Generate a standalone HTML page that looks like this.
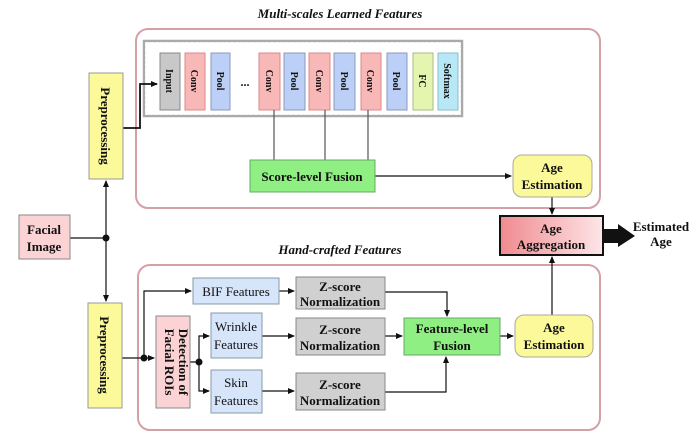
<!DOCTYPE html>
<html><head><meta charset="utf-8"><style>
html,body{margin:0;padding:0;background:#fff}
text{font-family:"Liberation Serif",serif;font-weight:bold;fill:#111}
</style></head><body>
<svg width="700" height="438" viewBox="0 0 700 438" xmlns="http://www.w3.org/2000/svg">
<defs>
<marker id="a" markerUnits="userSpaceOnUse" markerWidth="7" markerHeight="7" refX="6" refY="3.5" orient="auto"><path d="M0,0.5 L7,3.5 L0,6.5 z" fill="#111"/></marker>
<linearGradient id="g" x1="0" x2="1"><stop offset="0" stop-color="#f08a8f"/><stop offset="1" stop-color="#fde6e8"/></linearGradient>
</defs>
<text x="340" y="18" font-size="13" font-style="italic" text-anchor="middle">Multi-scales Learned Features</text>
<text x="340" y="254" font-size="13" font-style="italic" text-anchor="middle">Hand-crafted Features</text>
<rect x="136" y="29" width="464" height="179" rx="12" fill="none" stroke="#d4a0a8" stroke-width="2"/>
<rect x="138" y="265" width="462" height="165" rx="12" fill="none" stroke="#d4a0a8" stroke-width="2"/>
<rect x="144" y="41" width="318" height="75" fill="none" stroke="#aaa" stroke-width="2.5"/>
<rect x="145.5" y="42.5" width="315" height="72" fill="none" stroke="#fff" stroke-width="0.8" stroke-dasharray="3,2"/>
<!-- CNN blocks -->
<g font-size="10">
<rect x="160" y="53" width="20" height="57" fill="#c8c8c8" stroke="#888"/><text transform="translate(166,81) rotate(90)" text-anchor="middle">Input</text>
<rect x="185" y="53" width="20" height="57" fill="#f9b8b8" stroke="#d88"/><text transform="translate(191,81) rotate(90)" text-anchor="middle">Conv</text>
<rect x="211" y="53" width="19" height="57" fill="#bcd0f7" stroke="#89b"/><text transform="translate(217,81) rotate(90)" text-anchor="middle">Pool</text>
<text x="245" y="86" font-size="12" text-anchor="middle">...</text>
<rect x="259" y="53" width="21" height="57" fill="#f9b8b8" stroke="#d88"/><text transform="translate(266,81) rotate(90)" text-anchor="middle">Conv</text>
<rect x="284" y="53" width="21" height="57" fill="#bcd0f7" stroke="#89b"/><text transform="translate(291,81) rotate(90)" text-anchor="middle">Pool</text>
<rect x="309" y="53" width="21" height="57" fill="#f9b8b8" stroke="#d88"/><text transform="translate(316,81) rotate(90)" text-anchor="middle">Conv</text>
<rect x="334" y="53" width="21" height="57" fill="#bcd0f7" stroke="#89b"/><text transform="translate(341,81) rotate(90)" text-anchor="middle">Pool</text>
<rect x="361" y="53" width="20" height="57" fill="#f9b8b8" stroke="#d88"/><text transform="translate(367,81) rotate(90)" text-anchor="middle">Conv</text>
<rect x="387" y="53" width="20" height="57" fill="#bcd0f7" stroke="#89b"/><text transform="translate(393,81) rotate(90)" text-anchor="middle">Pool</text>
<rect x="413" y="53" width="20" height="57" fill="#e4f5b0" stroke="#ab8"/><text transform="translate(419,81) rotate(90)" text-anchor="middle">FC</text>
<rect x="438" y="53" width="20" height="57" fill="#b8e8f5" stroke="#8bc"/><text transform="translate(444,81) rotate(90)" text-anchor="middle">Softmax</text>
</g>
<g stroke="#111" fill="none" stroke-width="1.2">
<path d="M274,110 V160 M325,110 V160 M368,110 V160" stroke="#555"/>
<path d="M123,128 H140 V84 H157" stroke-width="1.8" marker-end="url(#a)"/>
<path d="M70,238 H106"/>
<path d="M106,238 V181" marker-end="url(#a)"/>
<path d="M106,238 V301" marker-end="url(#a)"/>
<path d="M375,176 H511" marker-end="url(#a)"/>
<path d="M552,197 V214" marker-end="url(#a)"/>
<path d="M552,315 V257" marker-end="url(#a)"/>
<path d="M122,358 H154" marker-end="url(#a)"/>
<path d="M144,358 V291 H191" marker-end="url(#a)"/>
<path d="M190,362 H199 V336 H209" marker-end="url(#a)"/>
<path d="M199,362 V391 H209" marker-end="url(#a)"/>
<path d="M279,291 H294" marker-end="url(#a)"/>
<path d="M262,336 H294" marker-end="url(#a)"/>
<path d="M262,391 H294" marker-end="url(#a)"/>
<path d="M385,292 H447 V316" marker-end="url(#a)"/>
<path d="M385,336 H402" marker-end="url(#a)"/>
<path d="M385,392 H446 V357" marker-end="url(#a)"/>
<path d="M500,336 H513" marker-end="url(#a)"/>
</g>
<circle cx="106" cy="238" r="3.5" fill="#111"/>
<circle cx="144" cy="358" r="3.5" fill="#111"/>
<circle cx="199" cy="362" r="3.5" fill="#111"/>
<!-- boxes -->
<rect x="19" y="215" width="51" height="44" fill="#fbd3d5" stroke="#888"/>
<text x="44" y="234" font-size="13" text-anchor="middle">Facial</text><text x="44" y="251" font-size="13" text-anchor="middle">Image</text>
<rect x="89" y="73" width="34" height="106" fill="#fbf99a" stroke="#999"/>
<text transform="translate(101,126) rotate(90)" font-size="13" text-anchor="middle">Preprocessing</text>
<rect x="88" y="303" width="34" height="105" fill="#fbf99a" stroke="#999"/>
<text transform="translate(100,355) rotate(90)" font-size="13" text-anchor="middle">Preprocessing</text>
<rect x="250" y="160" width="125" height="32" fill="#8fef82" stroke="#6a6"/>
<text x="312" y="181" font-size="13" text-anchor="middle">Score-level Fusion</text>
<rect x="513" y="155" width="79" height="42" rx="9" fill="#fbf99a" stroke="#aa9"/>
<text x="552" y="172" font-size="13" text-anchor="middle">Age</text><text x="552" y="189" font-size="13" text-anchor="middle">Estimation</text>
<rect x="500" y="216" width="103" height="39" fill="url(#g)" stroke="#111" stroke-width="2"/>
<text x="551" y="233" font-size="13" text-anchor="middle">Age</text><text x="551" y="249" font-size="13" text-anchor="middle">Aggregation</text>
<path d="M604,229 H618 V224 L635,236 L618,247 V243 H604 z" fill="#111"/>
<text x="661" y="231" font-size="13" text-anchor="middle">Estimated</text><text x="661" y="246" font-size="13" text-anchor="middle">Age</text>
<rect x="193" y="278" width="86" height="26" fill="#d6e5fa" stroke="#89a"/>
<text x="236" y="296" font-size="13" text-anchor="middle" style="font-weight:normal">BIF Features</text>
<rect x="156" y="316" width="34" height="92" fill="#fbd3d5" stroke="#888"/>
<text transform="translate(179,362) rotate(90)" font-size="13" text-anchor="middle">Detection of</text>
<text transform="translate(165,362) rotate(90)" font-size="13" text-anchor="middle">Facial ROIs</text>
<rect x="211" y="313" width="51" height="45" fill="#d6e5fa" stroke="#89a"/>
<text x="236" y="331" font-size="13" text-anchor="middle" style="font-weight:normal">Wrinkle</text><text x="236" y="349" font-size="13" text-anchor="middle" style="font-weight:normal">Features</text>
<rect x="211" y="370" width="51" height="43" fill="#d6e5fa" stroke="#89a"/>
<text x="236" y="387" font-size="13" text-anchor="middle" style="font-weight:normal">Skin</text><text x="236" y="405" font-size="13" text-anchor="middle" style="font-weight:normal">Features</text>
<g font-size="13">
<rect x="296" y="277" width="89" height="32" fill="#d0d0d0" stroke="#888"/>
<text x="340" y="291" text-anchor="middle">Z-score</text><text x="340" y="306" text-anchor="middle">Normalization</text>
<rect x="296" y="318" width="89" height="37" fill="#d0d0d0" stroke="#888"/>
<text x="340" y="334" text-anchor="middle">Z-score</text><text x="340" y="350" text-anchor="middle">Normalization</text>
<rect x="296" y="373" width="89" height="37" fill="#d0d0d0" stroke="#888"/>
<text x="340" y="389" text-anchor="middle">Z-score</text><text x="340" y="405" text-anchor="middle">Normalization</text>
<rect x="404" y="318" width="96" height="37" fill="#8fef82" stroke="#6a6"/>
<text x="452" y="333" text-anchor="middle">Feature-level</text><text x="452" y="350" text-anchor="middle">Fusion</text>
<rect x="515" y="315" width="78" height="42" rx="9" fill="#fbf99a" stroke="#aa9"/>
<text x="554" y="332" text-anchor="middle">Age</text><text x="554" y="349" text-anchor="middle">Estimation</text>
</g>
</svg>
</body></html>
